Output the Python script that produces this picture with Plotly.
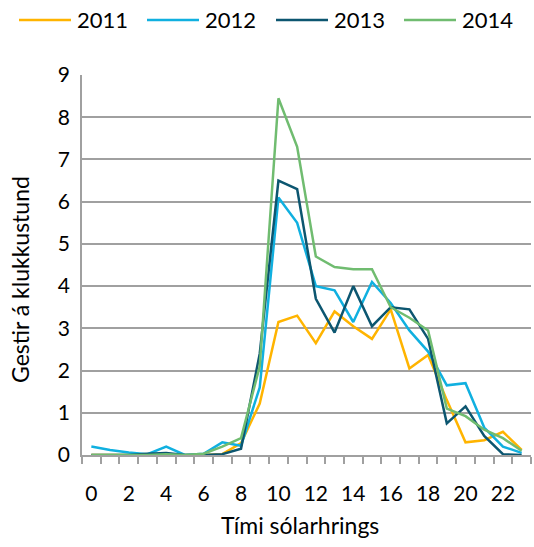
import plotly.graph_objects as go

# Visitors per hour of the day, by year
hours = list(range(24))
tick_hours = list(range(0, 24, 2))

v2011 = [0, 0, 0, 0.02, 0.02, 0, 0, 0.02, 0.28, 1.22, 3.15, 3.3, 2.65, 3.4, 3.05, 2.75,
         3.45, 2.05, 2.37, 1.3, 0.3, 0.35, 0.55, 0.12]
v2012 = [0.2, 0.12, 0.06, 0.02, 0.2, 0.0, 0.03, 0.3, 0.22, 1.6, 6.1, 5.5, 4.0, 3.9, 3.15, 4.1,
         3.6, 2.95, 2.45, 1.65, 1.7, 0.65, 0.2, 0.05]
v2013 = [0, 0, 0, 0.03, 0.05, 0, 0, 0.02, 0.15, 2.4, 6.5, 6.3, 3.7, 2.9, 4.0, 3.05,
         3.5, 3.45, 2.75, 0.75, 1.15, 0.45, 0.02, 0.0]
v2014 = [0, 0, 0, 0, 0.02, 0, 0.03, 0.2, 0.4, 2.1, 8.45, 7.3, 4.7, 4.45, 4.4, 4.4,
         3.5, 3.25, 2.95, 1.1, 0.92, 0.6, 0.4, 0.1]

years = ["2011", "2012", "2013", "2014"]
series = [v2011, v2012, v2013, v2014]
colors = ["#FFB400", "#10B0E0", "#0C5670", "#70BC70"]

FONT = "Lato"
W, H = 534, 547
M = dict(l=82, r=3, t=75, b=92)
PW, PH = W - M["l"] - M["r"], H - M["t"] - M["b"]


def px_x(px):
    """Pixel column -> paper x."""
    return (px - M["l"]) / PW


def px_y(py):
    """Pixel row -> paper y."""
    return 1 - (py - M["t"]) / PH


fig = go.Figure()
for name, vals, col in zip(years, series, colors):
    fig.add_trace(go.Scatter(x=hours, y=vals, mode="lines", name=name,
                             line=dict(color=col, width=2.5), showlegend=False))

# Legend row across the top (line sample + label)
leg_x = [19, 147, 276, 404]
for name, col, x0 in zip(years, colors, leg_x):
    fig.add_shape(type="line", xref="paper", yref="paper",
                  x0=px_x(x0), x1=px_x(x0 + 52), y0=px_y(20), y1=px_y(20),
                  line=dict(color=col, width=2.5))
    fig.add_annotation(text=name, xref="paper", yref="paper",
                       x=px_x(x0 + 56), y=px_y(20),
                       xanchor="left", yanchor="middle", showarrow=False,
                       font=dict(family=FONT, size=22, color="#000"))

# Axis titles
fig.add_annotation(text="Tími sólarhrings", xref="paper", yref="paper",
                   x=px_x(300), y=px_y(525), xanchor="center", yanchor="middle",
                   showarrow=False, font=dict(family=FONT, size=23, color="#000"))
fig.add_annotation(text="Gestir á klukkustund", xref="paper", yref="paper",
                   x=px_x(20), y=px_y(280), xanchor="center", yanchor="middle",
                   textangle=-90, showarrow=False,
                   font=dict(family=FONT, size=23, color="#000"))

grid = "#A0A0A0"
fig.update_xaxes(range=[-0.5, 23.5], tickmode="array", tickvals=tick_hours,
                 ticks="", showgrid=False, showline=True, linecolor=grid, linewidth=1.5,
                 ticklabelstandoff=19,
                 minor=dict(tickmode="array", tickvals=[h - 0.5 for h in range(25)],
                            ticks="outside", ticklen=7, tickcolor=grid, tickwidth=1.5,
                            showgrid=False),
                 tickfont=dict(family=FONT, size=21, color="#000"), zeroline=False)
fig.update_yaxes(range=[0, 9], dtick=1, showgrid=True, gridcolor=grid, gridwidth=1.5,
                 showline=True, linecolor=grid, linewidth=1.5, zeroline=False,
                 ticks="", ticklabelstandoff=6,
                 tickfont=dict(family=FONT, size=21, color="#000"))

fig.update_layout(width=W, height=H, margin=M, plot_bgcolor="white",
                  paper_bgcolor="white", showlegend=False)

fig.write_html("out.html")
